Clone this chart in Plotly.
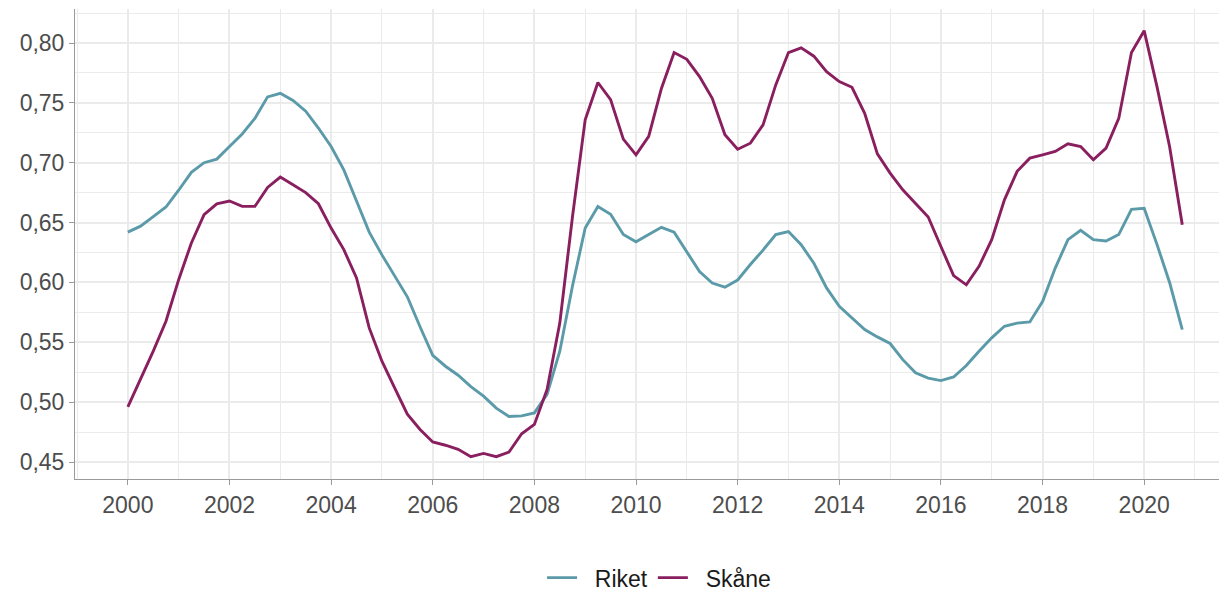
import plotly.graph_objects as go

# Quarterly time points 2000Q1 .. 2020Q4 (as decimal years)
years = [2000 + q / 4 for q in range(84)]

riket = [
    0.642, 0.647, 0.655, 0.663, 0.677, 0.692, 0.700, 0.703,
    0.7135, 0.724, 0.737, 0.755, 0.758, 0.752, 0.743, 0.729,
    0.7135, 0.694, 0.668, 0.642, 0.623, 0.605, 0.588, 0.563,
    0.539, 0.530, 0.5225, 0.513, 0.505, 0.495, 0.488, 0.4885,
    0.491, 0.5065, 0.5425, 0.597, 0.6455, 0.6635, 0.657, 0.640,
    0.634, 0.640, 0.646, 0.642, 0.626, 0.609, 0.5995, 0.596,
    0.602, 0.615, 0.627, 0.640, 0.6425, 0.6315, 0.616, 0.5954,
    0.580, 0.570, 0.5606, 0.5545, 0.549, 0.5355, 0.5245, 0.520,
    0.518, 0.521, 0.5306, 0.5425, 0.5537, 0.5634, 0.566, 0.567,
    0.584, 0.612, 0.6357, 0.6435, 0.6357, 0.6346, 0.640, 0.661,
    0.662, 0.632, 0.600, 0.5606,
]

skane = [
    0.496, 0.519, 0.5426, 0.5676, 0.6023, 0.633, 0.6566, 0.6657,
    0.668, 0.6635, 0.6635, 0.6793, 0.688, 0.6816, 0.675, 0.6657,
    0.6454, 0.6274, 0.6037, 0.562, 0.5342, 0.512, 0.490, 0.4772,
    0.4667, 0.464, 0.4606, 0.4544, 0.4572, 0.4544, 0.4583, 0.4736,
    0.4814, 0.5106, 0.566, 0.655, 0.7358, 0.767, 0.7527, 0.7197,
    0.7066, 0.722, 0.762, 0.792, 0.7864, 0.772, 0.7538, 0.7233,
    0.7113, 0.7163, 0.7316, 0.765, 0.792, 0.796, 0.789, 0.776,
    0.7678, 0.763, 0.7413, 0.7074, 0.6913, 0.6774, 0.6663, 0.6547,
    0.630, 0.6057, 0.598, 0.6135, 0.6357, 0.669, 0.6928, 0.7038,
    0.7066, 0.7094, 0.7158, 0.7135, 0.7024, 0.7122, 0.737, 0.792,
    0.8103, 0.764, 0.7135, 0.6482,
]

series_names = ["Riket", "Skåne"]

x_ticks = [2000, 2002, 2004, 2006, 2008, 2010, 2012, 2014, 2016, 2018, 2020]
y_ticks = [0.45, 0.50, 0.55, 0.60, 0.65, 0.70, 0.75, 0.80]

TEAL = "#5b9aa9"
PURPLE = "#8a1f60"
GRID = "#ebebeb"
AXIS = "#9a9a9a"
TICKTXT = "#4d4d4d"

PAD = "\u00a0\u00a0"  # small gap between legend key and label

fig = go.Figure()
fig.add_trace(go.Scatter(x=years, y=riket, mode="lines", name=PAD + series_names[0],
                         line=dict(color=TEAL, width=2.9)))
fig.add_trace(go.Scatter(x=years, y=skane, mode="lines", name=PAD + series_names[1],
                         line=dict(color=PURPLE, width=2.9)))

fig.update_layout(
    width=1219, height=585,
    margin=dict(l=67, r=0, t=1, b=114, autoexpand=False),
    paper_bgcolor="white", plot_bgcolor="white",
    separators=", ",
    font=dict(family="Liberation Sans, Arial, sans-serif", size=23, color=TICKTXT),
    showlegend=True,
    legend=dict(orientation="h", x=0.507, xanchor="center", y=-0.21, yanchor="middle",
                font=dict(size=23, color="#1a1a1a"),
                traceorder="normal"),
)

fig.update_xaxes(
    range=[1998.96, 2021.63],
    tickmode="array", tickvals=x_ticks, ticktext=[str(v) for v in x_ticks],
    showgrid=True, gridcolor=GRID, gridwidth=2.4,
    minor=dict(showgrid=True, dtick=1, tick0=2001, gridcolor=GRID, gridwidth=1.2),
    showline=True, linecolor=AXIS, linewidth=1,
    ticks="outside", ticklen=5, tickcolor=AXIS, tickwidth=1,
    zeroline=False,
    tickfont=dict(size=23, color=TICKTXT),
)
fig.update_yaxes(
    range=[0.4358, 0.8284],
    tickmode="array", tickvals=y_ticks,
    ticktext=[f"{v:.2f}".replace(".", ",") for v in y_ticks],
    showgrid=True, gridcolor=GRID, gridwidth=2.4,
    minor=dict(showgrid=True, dtick=0.025, tick0=0.425, gridcolor=GRID, gridwidth=1.2),
    showline=True, linecolor=AXIS, linewidth=1,
    ticks="outside", ticklen=5, tickcolor=AXIS, tickwidth=1,
    zeroline=False,
    tickfont=dict(size=23, color=TICKTXT),
)

fig.write_html("out.html")
